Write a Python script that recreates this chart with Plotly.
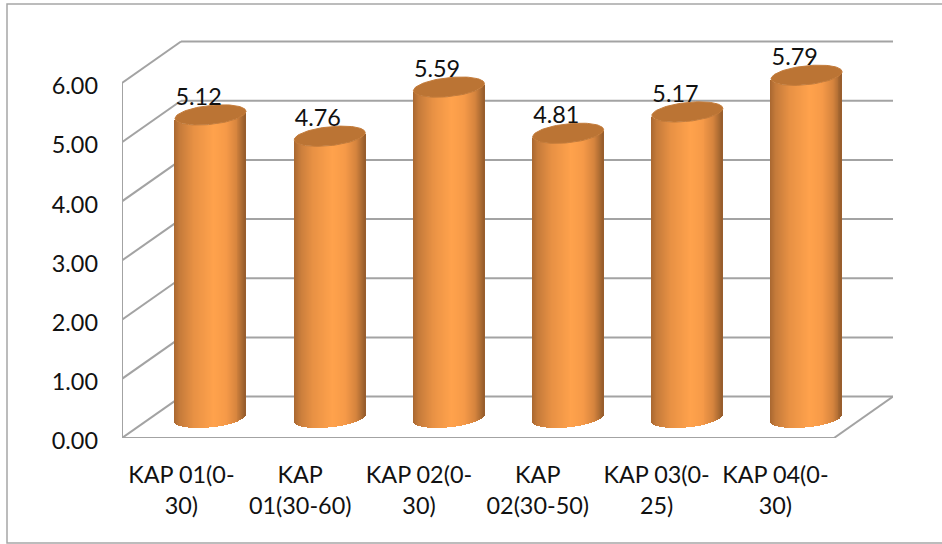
import numpy as np
import plotly.graph_objects as go

# Chart data
categories = ["KAP 01(0-<br>30)", "KAP<br>01(30-60)", "KAP 02(0-<br>30)",
              "KAP<br>02(30-50)", "KAP 03(0-<br>25)", "KAP 04(0-<br>30)"]
values = [5.12, 4.76, 5.59, 4.81, 5.17, 5.79]
y_ticks = [0, 1, 2, 3, 4, 5, 6]
y_tick_labels = ["0.00", "1.00", "2.00", "3.00", "4.00", "5.00", "6.00"]

# Oblique projection of the 3D box, in axis units
DEPTH_X = 0.4966
DEPTH_Y = 0.70
X_MIN, X_MAX = -0.5, 5.99
Y_MAX = 6.726
WIDTH, HEIGHT = 942, 544
LEFT, TOP, PLOT_W, PLOT_H = 122, 40, 771, 398

# Cylinder geometry
HALF_W = 0.2988
MID_X = 0.245
BAR_STEP = 1.0035
MID_Y = 0.34
CAP_B = 0.16
CAP_TILT = 0.06
STRIPS = 72

GRAD_U = [-1.0, -0.85, -0.45, 0.1, 0.45, 0.75, 0.92, 1.0]
GRAD_RGB = [(168, 103, 48), (196, 122, 58), (232, 145, 68), (255, 162, 76),
            (246, 154, 72), (214, 132, 62), (170, 106, 50), (150, 92, 44)]

LINE = "#a3a3a3"
FONT = dict(family="Lato, Carlito, sans-serif", size=23.4, color="#111111")


def shade(u):
    return "rgb({:.0f},{:.0f},{:.0f})".format(
        *[np.interp(u, GRAD_U, [c[i] for c in GRAD_RGB]) for i in range(3)]
    )


def wall_line(x0, y0, x1, y1):
    return dict(type="line", xref="x", yref="y", x0=x0, y0=y0, x1=x1, y1=y1,
                layer="below", line=dict(color=LINE, width=2))


shapes = []
back_left = X_MIN + DEPTH_X
back_right = X_MAX
front_right = back_right - DEPTH_X
for t in y_ticks:
    shapes.append(wall_line(X_MIN, t, back_left, t + DEPTH_Y))
    shapes.append(wall_line(back_left, t + DEPTH_Y, back_right, t + DEPTH_Y))
shapes.append(wall_line(X_MIN, 0, X_MIN, y_ticks[-1]))
shapes.append(wall_line(X_MIN, 0, front_right, 0))
shapes.append(wall_line(front_right, 0, back_right, DEPTH_Y))

# Frame of the chart area, running off the right edge of the page
shapes.append(dict(
    type="rect", xref="paper", yref="paper",
    x0=(7 - LEFT) / PLOT_W, x1=(WIDTH + 20 - LEFT) / PLOT_W,
    y0=(TOP + PLOT_H - 543) / PLOT_H, y1=(TOP + PLOT_H - 4) / PLOT_H,
    layer="below", line=dict(color="#a6a6a6", width=1.5),
))

# Cylinder bodies: thin vertical strips carry the horizontal shading
u_edges = np.linspace(-1, 1, STRIPS + 1)
u_mid = (u_edges[:-1] + u_edges[1:]) / 2
strip_w = 2 * HALF_W / STRIPS
curve = CAP_TILT * u_mid - CAP_B * np.sqrt(1 - u_mid ** 2)

strip_x, strip_base, strip_h, strip_color = [], [], [], []
for i, v in enumerate(values):
    for u, c in zip(u_mid, curve):
        strip_x.append(i * BAR_STEP + MID_X + u * HALF_W)
        strip_base.append(MID_Y + c)
        strip_h.append(v)
        strip_color.append(shade(u))

fig = go.Figure()
fig.add_trace(go.Bar(
    x=strip_x, y=strip_h, base=strip_base, width=strip_w * 1.25,
    marker=dict(color=strip_color, line=dict(width=0)),
    hoverinfo="skip", showlegend=False,
))

# Top caps of the cylinders
t = np.linspace(0, 2 * np.pi, 90)
for i, v in enumerate(values):
    fig.add_trace(go.Scatter(
        x=i * BAR_STEP + MID_X + HALF_W * np.cos(t),
        y=MID_Y + v + CAP_TILT * np.cos(t) + CAP_B * np.sin(t),
        mode="lines", fill="toself", fillcolor="#bb7434",
        line=dict(color="#c47c3b", width=1),
        hoverinfo="skip", showlegend=False,
    ))

# Value labels
fig.add_trace(go.Scatter(
    x=[i * BAR_STEP + MID_X - 0.1 for i in range(len(values))],
    y=[v + 0.605 for v in values],
    mode="text", text=[f"{v:.2f}" for v in values],
    textposition="middle center", textfont=FONT,
    hoverinfo="skip", showlegend=False,
))

fig.update_layout(
    width=WIDTH, height=HEIGHT, autosize=False,
    margin=dict(l=LEFT, r=WIDTH - LEFT - PLOT_W, t=TOP, b=HEIGHT - TOP - PLOT_H, pad=0),
    paper_bgcolor="white", plot_bgcolor="white",
    barmode="overlay", bargap=0, shapes=shapes, showlegend=False,
    xaxis=dict(range=[X_MIN, X_MAX], tickmode="array",
               tickvals=list(range(len(categories))), ticktext=categories,
               showgrid=False, zeroline=False, showline=False, ticks="",
               ticklabelstandoff=21, tickfont=FONT, tickangle=0),
    yaxis=dict(range=[0, Y_MAX], tickmode="array", tickvals=y_ticks,
               ticktext=y_tick_labels, showgrid=False, zeroline=False,
               showline=False, ticks="", ticklabelstandoff=23,
               ticklabelshift=3, tickfont=FONT),
)

fig.write_html("out.html")
